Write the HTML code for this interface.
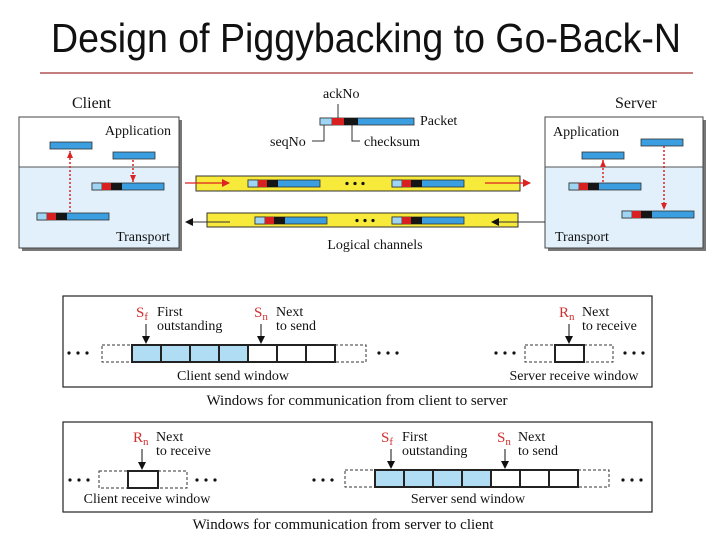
<!DOCTYPE html>
<html><head><meta charset="utf-8"><style>
html,body{margin:0;padding:0;background:#fff}
svg{display:block}
text{font-family:"Liberation Serif",serif;fill:#111}
</style></head><body>
<svg width="724" height="555" viewBox="0 0 724 555" xmlns="http://www.w3.org/2000/svg">
<defs>
<marker id="ar" markerWidth="8" markerHeight="8" refX="7" refY="4" orient="auto" markerUnits="userSpaceOnUse"><path d="M0,0 L8,4 L0,8 z" fill="#d22"/></marker>
<marker id="ab" markerWidth="8" markerHeight="8" refX="7" refY="4" orient="auto" markerUnits="userSpaceOnUse"><path d="M0,0 L8,4 L0,8 z" fill="#111"/></marker>
<marker id="ad" markerWidth="8" markerHeight="8" refX="7" refY="4" orient="auto" markerUnits="userSpaceOnUse"><path d="M0,1 L7,4 L0,7 z" fill="#d22"/></marker>
<g id="pk">
<rect x="0" y="0" width="72" height="7" fill="#3a9ee0" stroke="#333" stroke-width="0.8"/>
<rect x="0" y="0" width="10" height="7" fill="#9ed4f4" stroke="#333" stroke-width="0.8"/>
<rect x="10" y="0" width="9" height="7" fill="#d82020"/>
<rect x="19" y="0" width="11" height="7" fill="#151515"/>
</g>
</defs>
<text x="51" y="52" font-size="41" textLength="630" lengthAdjust="spacingAndGlyphs" style="font-family:'Liberation Sans',sans-serif">Design of Piggybacking to Go-Back-N</text>
<line x1="40" y1="73" x2="693" y2="73" stroke="#a03030" stroke-width="1.2"/>

<!-- Client box -->
<rect x="22" y="120" width="160" height="131" fill="#777"/>
<rect x="19" y="117" width="160" height="131" fill="#fff" stroke="#444"/>
<rect x="19.5" y="167" width="159" height="80.5" fill="#e1f0fa"/>
<line x1="19" y1="167" x2="179" y2="167" stroke="#555"/>
<text x="72" y="108" font-size="16">Client</text>
<text x="171" y="135" font-size="14" text-anchor="end">Application</text>
<text x="170" y="241" font-size="14" text-anchor="end">Transport</text>
<rect x="50" y="142" width="42" height="7" fill="#3a9ee0" stroke="#333" stroke-width="0.8"/>
<rect x="113" y="152" width="42" height="7" fill="#3a9ee0" stroke="#333" stroke-width="0.8"/>
<use href="#pk" x="92" y="183"/>
<use href="#pk" x="37" y="213"/>
<line x1="70" y1="212" x2="70" y2="151" stroke="#d22" stroke-width="1.5" stroke-dasharray="2,2" marker-end="url(#ad)"/>
<line x1="133" y1="160" x2="133" y2="182" stroke="#d22" stroke-width="1.5" stroke-dasharray="2,2" marker-end="url(#ad)"/>

<!-- Server box -->
<rect x="548" y="120" width="158" height="131" fill="#777"/>
<rect x="545" y="117" width="158" height="131" fill="#fff" stroke="#444"/>
<rect x="545.5" y="167" width="157" height="80.5" fill="#e1f0fa"/>
<line x1="545" y1="167" x2="703" y2="167" stroke="#555"/>
<text x="615" y="108" font-size="16">Server</text>
<text x="553" y="136" font-size="14">Application</text>
<text x="555" y="241" font-size="14">Transport</text>
<rect x="641" y="139" width="42" height="7" fill="#3a9ee0" stroke="#333" stroke-width="0.8"/>
<rect x="582" y="152" width="42" height="7" fill="#3a9ee0" stroke="#333" stroke-width="0.8"/>
<use href="#pk" x="569" y="183"/>
<use href="#pk" x="622" y="211"/>
<line x1="603" y1="182" x2="603" y2="160" stroke="#d22" stroke-width="1.5" stroke-dasharray="2,2" marker-end="url(#ad)"/>
<line x1="664" y1="146" x2="664" y2="210" stroke="#d22" stroke-width="1.5" stroke-dasharray="2,2" marker-end="url(#ad)"/>

<!-- legend -->
<text x="323" y="98" font-size="14">ackNo</text>
<rect x="320" y="118" width="94" height="7" fill="#3a9ee0" stroke="#333" stroke-width="0.8"/>
<rect x="320" y="118" width="12" height="7" fill="#9ed4f4" stroke="#333" stroke-width="0.8"/>
<rect x="332" y="118" width="12" height="7" fill="#d82020"/>
<rect x="344" y="118" width="14" height="7" fill="#151515"/>
<line x1="338" y1="104" x2="338" y2="118" stroke="#333"/>
<text x="420" y="125" font-size="14">Packet</text>
<text x="270" y="146" font-size="14">seqNo</text>
<polyline points="312,141 324,141 324,125" fill="none" stroke="#333"/>
<text x="364" y="146" font-size="14">checksum</text>
<polyline points="360,141 352,141 352,125" fill="none" stroke="#333"/>

<!-- channels -->
<rect x="196" y="176" width="324" height="15" fill="#f7ea3a" stroke="#333"/>
<use href="#pk" x="248" y="180"/>
<use href="#pk" x="392" y="180"/>
<circle cx="347" cy="183.5" r="1.6" fill="#111"/><circle cx="355" cy="183.5" r="1.6" fill="#111"/><circle cx="363" cy="183.5" r="1.6" fill="#111"/>
<line x1="185" y1="183" x2="229" y2="183" stroke="#d22" stroke-width="1.3" marker-end="url(#ar)"/>
<line x1="485" y1="183" x2="530" y2="183" stroke="#d22" stroke-width="1.3" marker-end="url(#ar)"/>
<rect x="207" y="213" width="311" height="14" fill="#f7ea3a" stroke="#333"/>
<use href="#pk" x="255" y="217"/>
<use href="#pk" x="392" y="217"/>
<circle cx="357" cy="220.5" r="1.6" fill="#111"/><circle cx="365" cy="220.5" r="1.6" fill="#111"/><circle cx="373" cy="220.5" r="1.6" fill="#111"/>
<line x1="230" y1="222" x2="186" y2="222" stroke="#333" marker-end="url(#ab)"/>
<line x1="545" y1="222" x2="492" y2="222" stroke="#333" marker-end="url(#ab)"/>
<text x="375" y="249" font-size="14" text-anchor="middle">Logical channels</text>

<!-- window box 1 -->
<rect x="63" y="296" width="589" height="91" fill="#fff" stroke="#222" stroke-width="1.2"/>
<g fill="#111">
<circle cx="69" cy="353" r="1.6"/><circle cx="78" cy="353" r="1.6"/><circle cx="87" cy="353" r="1.6"/>
<circle cx="379" cy="353" r="1.6"/><circle cx="388" cy="353" r="1.6"/><circle cx="397" cy="353" r="1.6"/>
<circle cx="496" cy="353" r="1.6"/><circle cx="505" cy="353" r="1.6"/><circle cx="514" cy="353" r="1.6"/>
<circle cx="625" cy="353" r="1.6"/><circle cx="634" cy="353" r="1.6"/><circle cx="643" cy="353" r="1.6"/>
</g>
<rect x="102" y="345" width="30" height="17" fill="none" stroke="#333" stroke-dasharray="3,2"/>
<rect x="335" y="345" width="31" height="17" fill="none" stroke="#333" stroke-dasharray="3,2"/>
<g stroke="#222" stroke-width="2">
<rect x="132" y="345" width="116" height="17" fill="#b0dcf4"/>
<rect x="248" y="345" width="87" height="17" fill="#fff"/>
<line x1="161" y1="345" x2="161" y2="362"/><line x1="190" y1="345" x2="190" y2="362"/><line x1="219" y1="345" x2="219" y2="362"/>
<line x1="277" y1="345" x2="277" y2="362"/><line x1="306" y1="345" x2="306" y2="362"/>
</g>
<text x="136" y="317" font-size="15" style="fill:#d03030">S<tspan font-size="11" dy="3">f</tspan></text>
<text x="157" y="316" font-size="14">First</text>
<text x="157" y="330" font-size="14">outstanding</text>
<line x1="146" y1="324" x2="146" y2="343" stroke="#111" marker-end="url(#ab)"/>
<text x="254" y="317" font-size="15" style="fill:#d03030">S<tspan font-size="11" dy="3">n</tspan></text>
<text x="276" y="316" font-size="14">Next</text>
<text x="276" y="330" font-size="14">to send</text>
<line x1="261" y1="324" x2="261" y2="343" stroke="#111" marker-end="url(#ab)"/>
<text x="233" y="380" font-size="14" text-anchor="middle">Client send window</text>
<rect x="525" y="345" width="30" height="17" fill="none" stroke="#333" stroke-dasharray="3,2"/>
<rect x="584" y="345" width="29" height="17" fill="none" stroke="#333" stroke-dasharray="3,2"/>
<rect x="555" y="345" width="29" height="17" fill="#fff" stroke="#222" stroke-width="2"/>
<text x="559" y="317" font-size="15" style="fill:#d03030">R<tspan font-size="11" dy="3">n</tspan></text>
<text x="582" y="316" font-size="14">Next</text>
<text x="582" y="330" font-size="14">to receive</text>
<line x1="569" y1="324" x2="569" y2="343" stroke="#111" marker-end="url(#ab)"/>
<text x="574" y="380" font-size="14" text-anchor="middle">Server receive window</text>
<text x="357" y="405" font-size="15" text-anchor="middle">Windows for communication from client to server</text>

<!-- window box 2 -->
<rect x="63" y="422" width="589" height="90" fill="#fff" stroke="#222" stroke-width="1.2"/>
<g fill="#111">
<circle cx="70" cy="480" r="1.6"/><circle cx="79" cy="480" r="1.6"/><circle cx="88" cy="480" r="1.6"/>
<circle cx="197" cy="480" r="1.6"/><circle cx="206" cy="480" r="1.6"/><circle cx="215" cy="480" r="1.6"/>
<circle cx="314" cy="480" r="1.6"/><circle cx="323" cy="480" r="1.6"/><circle cx="332" cy="480" r="1.6"/>
<circle cx="623" cy="480" r="1.6"/><circle cx="632" cy="480" r="1.6"/><circle cx="641" cy="480" r="1.6"/>
</g>
<rect x="99" y="471" width="29" height="17" fill="none" stroke="#333" stroke-dasharray="3,2"/>
<rect x="158" y="471" width="29" height="17" fill="none" stroke="#333" stroke-dasharray="3,2"/>
<rect x="128" y="471" width="30" height="17" fill="#fff" stroke="#222" stroke-width="2"/>
<text x="133" y="442" font-size="15" style="fill:#d03030">R<tspan font-size="11" dy="3">n</tspan></text>
<text x="156" y="441" font-size="14">Next</text>
<text x="156" y="455" font-size="14">to receive</text>
<line x1="142" y1="449" x2="142" y2="469" stroke="#111" marker-end="url(#ab)"/>
<text x="147" y="503" font-size="14" text-anchor="middle">Client receive window</text>
<rect x="345" y="470" width="30" height="17" fill="none" stroke="#333" stroke-dasharray="3,2"/>
<rect x="578" y="470" width="31" height="17" fill="none" stroke="#333" stroke-dasharray="3,2"/>
<g stroke="#222" stroke-width="2">
<rect x="375" y="470" width="116" height="17" fill="#b0dcf4"/>
<rect x="491" y="470" width="87" height="17" fill="#fff"/>
<line x1="404" y1="470" x2="404" y2="487"/><line x1="433" y1="470" x2="433" y2="487"/><line x1="462" y1="470" x2="462" y2="487"/>
<line x1="520" y1="470" x2="520" y2="487"/><line x1="549" y1="470" x2="549" y2="487"/>
</g>
<text x="381" y="442" font-size="15" style="fill:#d03030">S<tspan font-size="11" dy="3">f</tspan></text>
<text x="402" y="441" font-size="14">First</text>
<text x="402" y="455" font-size="14">outstanding</text>
<line x1="391" y1="449" x2="391" y2="468" stroke="#111" marker-end="url(#ab)"/>
<text x="497" y="442" font-size="15" style="fill:#d03030">S<tspan font-size="11" dy="3">n</tspan></text>
<text x="518" y="441" font-size="14">Next</text>
<text x="518" y="455" font-size="14">to send</text>
<line x1="505" y1="449" x2="505" y2="468" stroke="#111" marker-end="url(#ab)"/>
<text x="468" y="503" font-size="14" text-anchor="middle">Server send window</text>
<text x="343" y="529" font-size="15" text-anchor="middle">Windows for communication from server to client</text>
</svg>
</body></html>
